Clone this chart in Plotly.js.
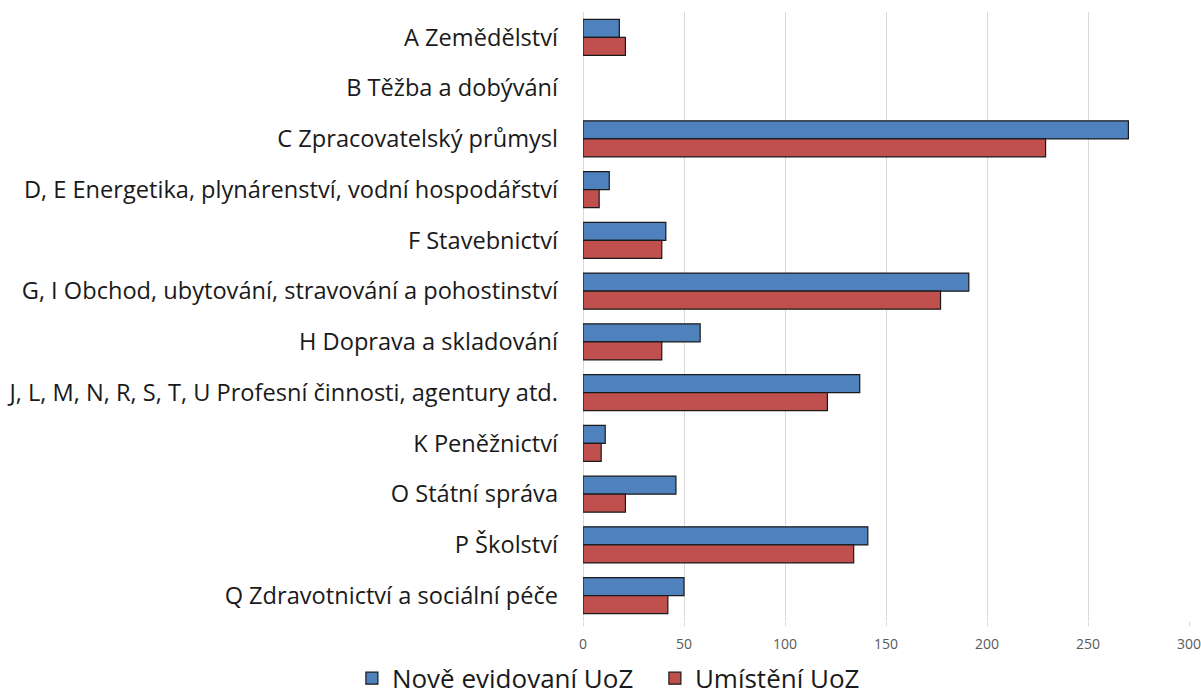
<!DOCTYPE html>
<html>
<head>
<meta charset="utf-8">
<script src="https://cdn.plot.ly/plotly-3.0.1.min.js"></script>
<style>html,body{margin:0;padding:0;background:#fff;}#chart{width:1201px;height:700px;}</style>
</head>
<body>
<div id="chart"></div>
<script>
const categories = [
  "A Zemědělství",
  "B Těžba a dobývání",
  "C Zpracovatelský průmysl",
  "D, E Energetika, plynárenství, vodní hospodářství",
  "F Stavebnictví",
  "G, I Obchod, ubytování, stravování a pohostinství",
  "H Doprava a skladování",
  "J, L, M, N, R, S, T, U Profesní činnosti, agentury atd.",
  "K Peněžnictví",
  "O Státní správa",
  "P Školství",
  "Q Zdravotnictví a sociální péče"
];
const noveEvidovani = [18, 0, 270, 13, 41, 191, 58, 137, 11, 46, 141, 50];
const umisteni = [21, 0, 229, 8, 39, 177, 39, 121, 9, 21, 134, 42];
const seriesNames = ["Nově evidovaní UoZ", "Umístění UoZ"];
const xTicks = [0, 50, 100, 150, 200, 250, 300];

const font = "'Open Sans', Lato, sans-serif";
const outline = vals => vals.map(v => v === 0 ? 0 : 1.2);
const traces = [
  {type: "bar", orientation: "h", name: seriesNames[0], y: categories, x: noveEvidovani,
   marker: {color: "#4F81BD", line: {color: "#1a1a1a", width: outline(noveEvidovani)}}, hoverinfo: "x+y"},
  {type: "bar", orientation: "h", name: seriesNames[1], y: categories, x: umisteni,
   marker: {color: "#C0504D", line: {color: "#1a1a1a", width: outline(umisteni)}}, hoverinfo: "x+y"}
];
const layout = {
  width: 1201, height: 700,
  margin: {l: 583, r: 12, t: 12, b: 79},
  paper_bgcolor: "#fff", plot_bgcolor: "#fff",
  barmode: "group", bargap: 0.29, bargroupgap: 0,
  font: {family: font, color: "#1a1a1a"},
  xaxis: {
    range: [0, 300], tickvals: xTicks, ticktext: xTicks.map(String),
    showgrid: true, gridcolor: "#d9d9d9", gridwidth: 1,
    zeroline: true, zerolinecolor: "#d9d9d9", zerolinewidth: 1,
    ticks: "outside", ticklen: 4, tickcolor: "#d9d9d9",
    tickfont: {size: 14, color: "#595959", family: font},
    ticklabelstandoff: 6, ticklabeloverflow: "allow",
    showline: false, fixedrange: true
  },
  yaxis: {
    autorange: "reversed", type: "category",
    ticks: "", showgrid: false, zeroline: false, showline: false,
    tickfont: {size: 23.6, color: "#1a1a1a", family: font},
    ticklabelstandoff: 24, fixedrange: true
  },
  legend: {
    orientation: "h", x: 0.293, xref: "container", xanchor: "left",
    y: 0.031, yref: "container", yanchor: "middle",
    font: {size: 26, color: "#1a1a1a", family: font},
    itemwidth: 30, entrywidth: 258, entrywidthmode: "pixels", tracegroupgap: 0
  },
  showlegend: true
};
Plotly.newPlot("chart", traces, layout, {displayModeBar: false, staticPlot: true});
</script>
</body>
</html>
